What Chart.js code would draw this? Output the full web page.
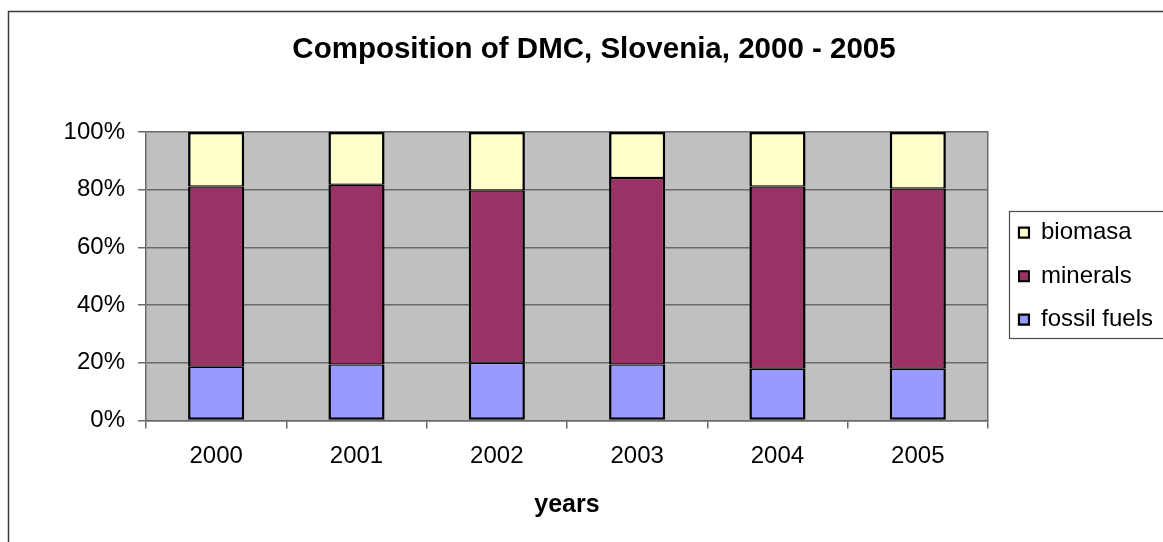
<!DOCTYPE html>
<html>
<head>
<meta charset="utf-8">
<title>Composition of DMC, Slovenia, 2000 - 2005</title>
<script src="https://cdn.jsdelivr.net/npm/chart.js@4/dist/chart.umd.min.js"></script>
<style>
  html, body { margin: 0; padding: 0; background: #ffffff; }
  #wrap { width: 1163px; height: 542px; position: relative; }
</style>
</head>
<body>
<div id="wrap"><canvas id="chart"></canvas></div>
<script>
// Share of each material group in domestic material consumption (%)
const years = ['2000', '2001', '2002', '2003', '2004', '2005'];
const fossilFuels = [18.6, 19.4, 20.0, 19.4, 17.9, 17.9];
const minerals = [62.5, 62.3, 59.7, 64.6, 63.2, 62.5];
const biomasa = [18.9, 18.3, 20.3, 16.0, 18.9, 19.6];
const percentTicks = [0, 20, 40, 60, 80, 100];

const FONT = "'Liberation Sans', Arial, sans-serif";
const GRID = '#6a6a6a';

Chart.defaults.font.family = FONT;
Chart.defaults.color = '#000000';

// grey plot background
const plotBackground = {
  id: 'plotBackground',
  beforeDraw(chart) {
    const { ctx, chartArea: a } = chart;
    ctx.save();
    ctx.fillStyle = '#c0c0c0';
    ctx.fillRect(a.left, a.top, a.right - a.left, a.bottom - a.top);
    ctx.restore();
  }
};

// outer chart frame and the frame around the legend
const frames = {
  id: 'frames',
  afterDraw(chart) {
    const { ctx } = chart;
    ctx.save();
    ctx.strokeStyle = '#3a3a3a';
    ctx.lineWidth = 1.5;
    ctx.strokeRect(8.5, 11.5, chart.width + 20, chart.height + 20);

    const boxes = chart.legend && chart.legend.legendHitBoxes;
    if (boxes && boxes.length) {
      const fs = chart.options.plugins.legend.labels.font.size;
      const tops = boxes.map(b => b.top);
      const first = Math.min(...tops) + fs / 2;
      const last = Math.max(...tops) + fs / 2;
      const left = Math.min(...boxes.map(b => b.left)) - 10;
      ctx.strokeStyle = '#4a4a4a';
      ctx.lineWidth = 1.2;
      ctx.strokeRect(Math.round(left) + 0.5, Math.round(first - 21.5) + 0.5,
        chart.width + 20, Math.round(last + 18) - Math.round(first - 21.5));
    }
    ctx.restore();
  }
};

new Chart(document.getElementById('chart'), {
  type: 'bar',
  data: {
    labels: years,
    datasets: [
      {
        label: 'fossil fuels',
        data: fossilFuels,
        backgroundColor: '#9999ff',
        borderColor: '#000000',
        borderWidth: { top: 1.25, bottom: 2.5, left: 2.5, right: 2.5 },
        borderSkipped: false
      },
      {
        label: 'minerals',
        data: minerals,
        backgroundColor: '#993366',
        borderColor: '#000000',
        borderWidth: { top: 1.25, bottom: 1.25, left: 2.5, right: 2.5 },
        borderSkipped: false
      },
      {
        label: 'biomasa',
        data: biomasa,
        backgroundColor: '#ffffcc',
        borderColor: '#000000',
        borderWidth: { top: 2.5, bottom: 1.25, left: 2.5, right: 2.5 },
        borderSkipped: false
      }
    ]
  },
  options: {
    responsive: true,
    maintainAspectRatio: false,
    animation: false,
    devicePixelRatio: 1,
    layout: { padding: { left: 25, right: 0, top: 0, bottom: 0 } },
    datasets: {
      bar: { barPercentage: 0.4, categoryPercentage: 1.0 }
    },
    scales: {
      x: {
        stacked: true,
        offset: true,
        grid: {
          display: true,
          offset: true,
          drawOnChartArea: false,
          drawTicks: true,
          tickLength: 8,
          color: GRID,
          lineWidth: 1.5
        },
        border: { display: true, color: GRID, width: 1.5 },
        ticks: { font: { size: 24 }, padding: 13, color: '#000000' },
        title: {
          display: true,
          text: 'years',
          font: { size: 25, weight: 'bold' },
          padding: { top: 0, bottom: 22 },
          color: '#000000'
        },
        afterFit(scale) { scale.height = 121.5; }
      },
      y: {
        stacked: true,
        min: 0,
        max: 100,
        afterBuildTicks(scale) { scale.ticks = percentTicks.map(v => ({ value: v })); },
        grid: {
          color: GRID,
          lineWidth: 1.5,
          drawTicks: true,
          tickLength: 8
        },
        border: { display: true, color: GRID, width: 1.5 },
        ticks: {
          font: { size: 24 },
          padding: 13,
          color: '#000000',
          callback: v => v + '%'
        },
        afterFit(scale) { scale.width = 121; }
      },
      edge: {
        type: 'linear',
        position: 'right',
        display: true,
        grid: { display: false, drawTicks: false },
        ticks: { display: false },
        border: { display: true, color: GRID, width: 1.5 },
        afterFit(scale) { scale.width = 11.5; }
      }
    },
    plugins: {
      title: {
        display: true,
        text: 'Composition of DMC, Slovenia, 2000 - 2005',
        font: { size: 29.5, weight: 'bold' },
        color: '#000000',
        padding: { top: 32, bottom: 64.5 }
      },
      legend: {
        display: true,
        position: 'right',
        align: 'center',
        fullSize: false,
        reverse: true,
        labels: {
          boxWidth: 10,
          boxHeight: 10,
          padding: 19.5,
          color: '#000000',
          font: { size: 24 }
        }
      },
      tooltip: { enabled: false }
    }
  },
  plugins: [plotBackground, frames]
});
</script>
</body>
</html>
